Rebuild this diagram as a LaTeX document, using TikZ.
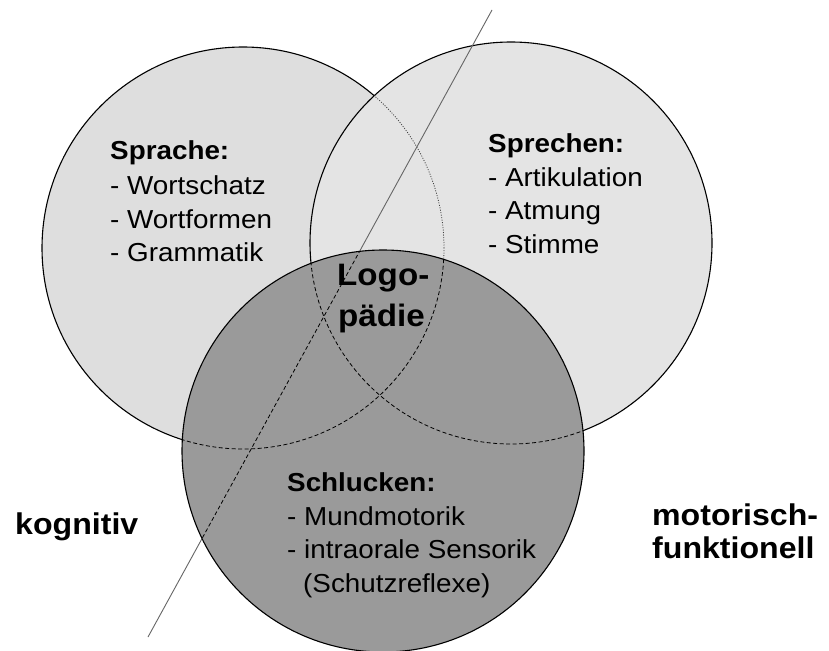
\documentclass[tikz,border=0pt]{standalone}
\usepackage{fontspec}
\setmainfont{Liberation Sans}[FakeStretch=1.07]
\definecolor{fillSprache}{HTML}{DEDEDE}
\definecolor{fillSprechen}{HTML}{E4E4E4}
\definecolor{fillSchlucken}{HTML}{9A9A9A}
\begin{document}
\begin{tikzpicture}[x=1pt,y=-1pt,
  ring/.style={draw=black, line width=1.1pt},
  hidden/.style={draw=black, line width=0.8pt, dash pattern=on 4pt off 2.5pt},
  faint/.style={draw=black!75, line width=0.8pt, dash pattern=on 1pt off 1.5pt},
  divider/.style={draw=black!60, line width=0.9pt},
  body/.style={anchor=base west, inner sep=0pt, font=\fontsize{26}{31}\selectfont},
  head/.style={anchor=base west, inner sep=0pt, font=\fontsize{26}{31}\selectfont\bfseries},
  big/.style={anchor=base west, inner sep=0pt, font=\fontsize{30}{36}\selectfont\bfseries}]

\useasboundingbox (0,0) rectangle (829,650);
\fill[white] (0,0) rectangle (829,650);

% circle centres and the dividing line
\coordinate (cS) at (243,248);
\coordinate (cP) at (511,243);
\coordinate (cL) at (383,451);
\coordinate (lt) at (492,10);
\coordinate (lb) at (148,637);

% upper two circles
\path[ring, fill=fillSprache] (cS) circle[radius=201pt];
\path[ring, fill=fillSprechen] (cP) circle[radius=201pt];
\begin{scope}
  \clip (cP) circle[radius=201pt];
  \draw[faint] (cS) circle[radius=201pt];
\end{scope}

% dividing line
\draw[divider] (lt) -- (lb);

% lower circle with hidden outlines
\path[ring, fill=fillSchlucken] (cL) circle[radius=201pt];
\begin{scope}
  \clip (cL) circle[radius=201pt];
  \draw[hidden] (cS) circle[radius=201pt];
  \draw[hidden] (cP) circle[radius=201pt];
  \draw[hidden] (lt) -- (lb);
\end{scope}

% Sprache
\node[head] (s0) at (110,159) {Sprache:};
\node[body] (s1) at (110,194) {- Wortschatz};
\node[body] (s2) at (110,228) {- Wortformen};
\node[body] (s3) at (110,261) {- Grammatik};

% Sprechen
\node[head] (p0) at (488,152) {Sprechen:};
\node[body] (p1) at (488,186) {- Artikulation};
\node[body] (p2) at (488,219) {- Atmung};
\node[body] (p3) at (488,253) {- Stimme};

% Schlucken
\node[head] (l0) at (287,491) {Schlucken:};
\node[body] (l1) at (287,525) {- Mundmotorik};
\node[body] (l2) at (287,558) {- intraorale Sensorik};
\node[body] (l3) at (303,592) {(Schutzreflexe)};

% centre
\node[big, font=\fontsize{31}{37}\selectfont\bfseries] (logo1) at (337,285) {Logo-};
\node[big, font=\fontsize{31}{37}\selectfont\bfseries] (logo2) at (338,326) {pädie};

% sides
\node[big] (kog) at (15,534) {kognitiv};
\node[big] (mot1) at (652,525) {motorisch-};
\node[big] (mot2) at (652,558) {funktionell};
\end{tikzpicture}
\end{document}
